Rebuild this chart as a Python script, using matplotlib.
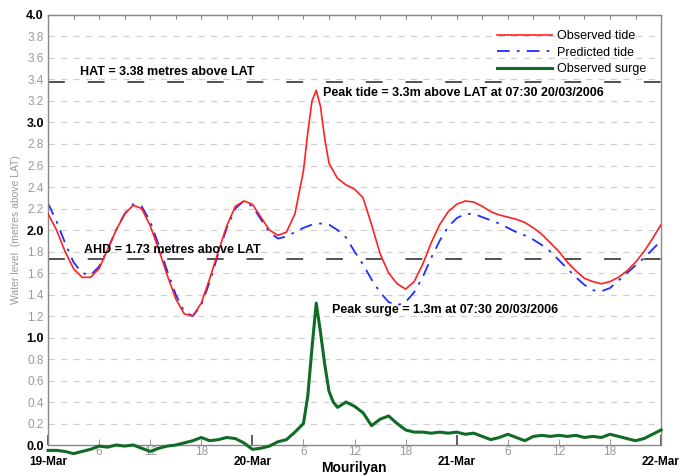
import matplotlib
matplotlib.use("Agg")
import matplotlib.pyplot as plt
from matplotlib.ticker import FixedLocator

plt.rcParams["font.family"] = ["Liberation Sans", "DejaVu Sans"]

# hours since 19-Mar 00:00
tide_hours = [0, 1, 2, 3, 4, 5, 6, 7, 8, 9, 10, 11, 12, 13, 14, 15, 16, 17, 18, 19, 20,
              21, 22, 23, 24, 25, 26, 27, 28, 29, 30, 30.5, 31, 31.5, 32, 32.5, 33, 34,
              35, 36, 37, 38, 39, 40, 41, 42, 43, 44, 45, 46, 47, 48, 49, 50, 51, 52, 53,
              54, 55, 56, 57, 58, 59, 60, 61, 62, 63, 64, 65, 66, 67, 68, 69, 70, 71, 72]
observed_tide = [2.15, 2.00, 1.80, 1.64, 1.56, 1.56, 1.64, 1.82, 2.00, 2.15, 2.23, 2.20,
                 2.04, 1.82, 1.58, 1.36, 1.22, 1.20, 1.32, 1.55, 1.80, 2.04, 2.22, 2.27,
                 2.24, 2.12, 2.00, 1.95, 1.98, 2.15, 2.55, 2.90, 3.20, 3.30, 3.15, 2.85,
                 2.62, 2.48, 2.42, 2.38, 2.30, 2.05, 1.78, 1.60, 1.50, 1.45, 1.52, 1.68,
                 1.88, 2.05, 2.17, 2.24, 2.27, 2.26, 2.22, 2.17, 2.14, 2.12, 2.10, 2.07,
                 2.02, 1.96, 1.88, 1.80, 1.70, 1.62, 1.55, 1.52, 1.50, 1.52, 1.56, 1.62,
                 1.70, 1.80, 1.92, 2.05]

pred_hours = list(range(73))
predicted_tide = [2.25, 2.08, 1.88, 1.70, 1.60, 1.58, 1.66, 1.82, 2.00, 2.15, 2.24, 2.22,
                  2.08, 1.86, 1.62, 1.40, 1.24, 1.20, 1.30, 1.52, 1.78, 2.02, 2.20, 2.27,
                  2.22, 2.10, 1.98, 1.92, 1.94, 1.98, 2.02, 2.05, 2.06, 2.05, 2.00, 1.93,
                  1.80, 1.68, 1.54, 1.42, 1.33, 1.30, 1.33, 1.42, 1.56, 1.74, 1.90, 2.03,
                  2.11, 2.15, 2.15, 2.12, 2.09, 2.06, 2.02, 1.98, 1.95, 1.91, 1.86, 1.80,
                  1.72, 1.64, 1.56, 1.49, 1.44, 1.43, 1.46, 1.53, 1.60, 1.67, 1.74, 1.82,
                  1.90]

surge_hours = [0, 1, 2, 3, 4, 5, 6, 7, 8, 9, 10, 11, 12, 13, 14, 15, 16, 17, 18, 19, 20,
               21, 22, 23, 24, 25, 26, 27, 28, 29, 30, 30.5, 31, 31.5, 32, 32.5, 33, 33.5,
               34, 35, 36, 37, 38, 39, 40, 41, 42, 43, 44, 45, 46, 47, 48, 49, 50, 51, 52,
               53, 54, 55, 56, 57, 58, 59, 60, 61, 62, 63, 64, 65, 66, 67, 68, 69, 70, 71, 72]
observed_surge = [-0.05, -0.05, -0.06, -0.08, -0.06, -0.04, -0.01, -0.02, 0.00, -0.01,
                  0.00, -0.03, -0.06, -0.03, -0.01, 0.00, 0.02, 0.04, 0.07, 0.04, 0.05,
                  0.07, 0.06, 0.02, -0.04, -0.03, -0.01, 0.03, 0.05, 0.12, 0.20, 0.45,
                  0.90, 1.32, 1.05, 0.75, 0.50, 0.40, 0.35, 0.40, 0.36, 0.30, 0.18, 0.24,
                  0.27, 0.20, 0.14, 0.12, 0.12, 0.11, 0.12, 0.11, 0.12, 0.10, 0.11, 0.08,
                  0.05, 0.07, 0.10, 0.07, 0.04, 0.08, 0.09, 0.08, 0.09, 0.08, 0.09, 0.07,
                  0.08, 0.07, 0.10, 0.08, 0.06, 0.04, 0.06, 0.10, 0.14]

hat = 3.38
ahd = 1.73
day_labels = ["19-Mar", "20-Mar", "21-Mar", "22-Mar"]
hour_labels = ["6", "12", "18"] * 3

fig = plt.figure(figsize=(6.99, 4.76), dpi=100)
ax = fig.add_axes([0.0687, 0.0651, 0.8770, 0.9034])

for v in [i * 0.2 for i in range(1, 20)]:
    ax.axhline(v, color="#d0d0d0", lw=0.9, dashes=(5, 5), zorder=0)

ax.axhline(hat, color="#222222", lw=1.1, dashes=(11, 15), zorder=1)
ax.axhline(ahd, color="#222222", lw=1.1, dashes=(11, 15), zorder=1)

ax.plot(tide_hours, observed_tide, color="#ff2020", lw=1.2, label="Observed tide", zorder=3)
ax.plot(pred_hours, predicted_tide, color="#1f2dff", lw=1.3, dashes=(7, 4, 1.5, 4),
        label="Predicted tide", zorder=2)
ax.plot(surge_hours, observed_surge, color="#0f6b25", lw=2.2, label="Observed surge",
        zorder=3, clip_on=False)

ax.set_xlim(0, 72)
ax.set_ylim(0, 4.0)

# y ticks: whole numbers bold black, others grey
yt = [i * 0.2 for i in range(21)]
ax.set_yticks(yt)
ax.set_yticklabels([f"{v:.1f}" for v in yt])
for lbl, v in zip(ax.get_yticklabels(), yt):
    if abs(v - round(v)) < 1e-6:
        lbl.set_fontweight("bold")
        lbl.set_color("black")
        lbl.set_fontsize(9)
    else:
        lbl.set_color("#9a9a9a")
        lbl.set_fontsize(8.5)
ax.tick_params(axis="y", length=0, pad=3)

# x ticks: days major, 6-hourly minor
ax.set_xticks([0, 24, 48, 72])
ax.set_xticklabels(day_labels, fontweight="bold", fontsize=8.5)
ax.xaxis.set_minor_locator(FixedLocator([6, 12, 18, 30, 36, 42, 54, 60, 66]))
ax.set_xticklabels(hour_labels, minor=True, color="#9a9a9a", fontsize=8.5)
ax.tick_params(axis="x", which="major", direction="in", length=7, width=1.2,
               color="#444444", pad=8)
ax.tick_params(axis="x", which="minor", direction="in", length=4, color="#888888", pad=1)

top = ax.secondary_xaxis("top")
top.set_xticks(list(range(0, 73, 3)))
top.tick_params(direction="in", length=3, color="#888888", labeltop=False)
top.spines["top"].set_color("#888888")

for s in ax.spines.values():
    s.set_color("#888888")
    s.set_linewidth(1.0)

ax.set_xlabel("Mourilyan", fontweight="bold", fontsize=10)
ax.xaxis.set_label_coords(0.499, -0.038)
ax.set_ylabel("Water level  (metres above LAT)", color="#9a9a9a", fontsize=7.5, labelpad=4)

ax.text(3.8, 3.47, "HAT = 3.38 metres above LAT", fontweight="bold", fontsize=9,
        va="center", ha="left")
ax.text(4.2, 1.81, "AHD = 1.73 metres above LAT", fontweight="bold", fontsize=9,
        va="center", ha="left")
ax.text(32.3, 3.27, "Peak tide = 3.3m above LAT at 07:30 20/03/2006", fontweight="bold",
        fontsize=9, va="center", ha="left")
ax.text(33.4, 1.26, "Peak surge = 1.3m at 07:30 20/03/2006", fontweight="bold",
        fontsize=9, va="center", ha="left")

ax.legend(loc="upper right", bbox_to_anchor=(0.94, 0.96), bbox_transform=fig.transFigure,
          frameon=False, fontsize=9, handlelength=4.4, labelspacing=0.35,
          handletextpad=0.4)

fig.savefig("out.png", dpi=100)
